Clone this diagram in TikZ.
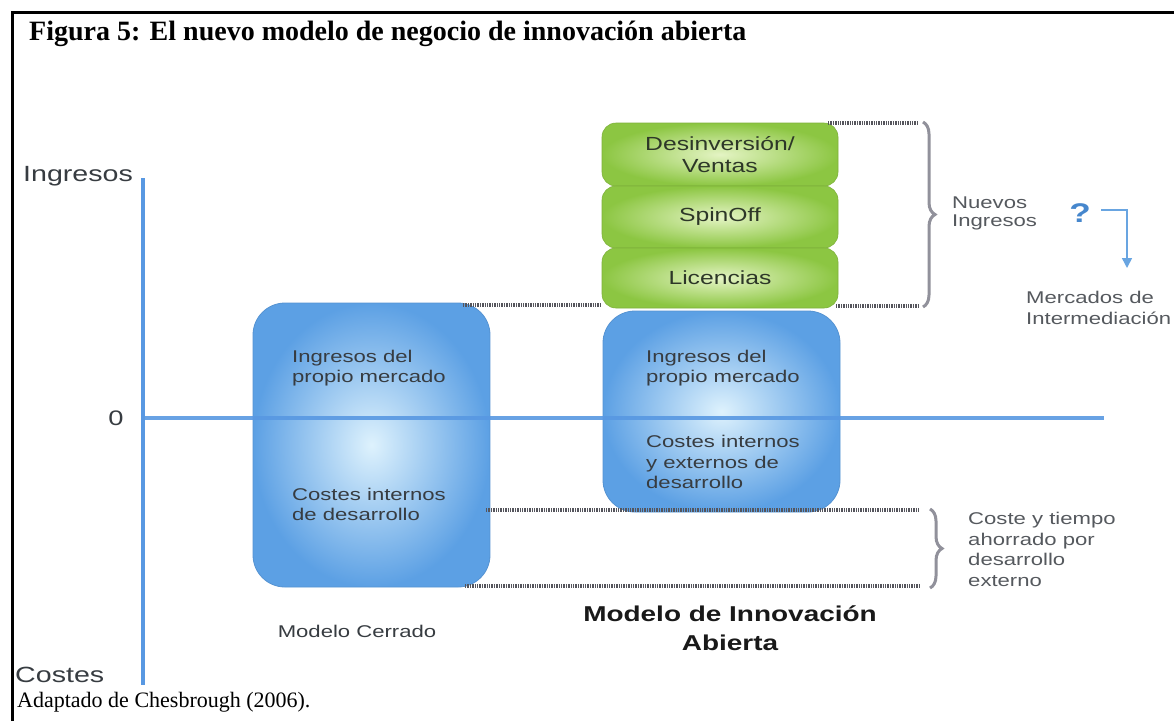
\documentclass[tikz,border=0pt]{standalone}
\usepackage{fontspec}
\setmainfont{Liberation Serif}
\newfontfamily\dsans[FakeStretch=1.3]{Liberation Sans}
\usetikzlibrary{decorations.pathreplacing,arrows.meta}
\definecolor{axisblue}{RGB}{88,152,226}
\definecolor{blueedge}{RGB}{92,160,228}
\definecolor{bluelight}{RGB}{222,242,253}
\definecolor{greenedge}{RGB}{140,198,66}
\definecolor{greenlight}{RGB}{228,244,196}
\definecolor{greentxt}{RGB}{45,55,40}
\definecolor{txtgray}{RGB}{55,60,65}
\definecolor{dotgray}{RGB}{85,85,92}
\definecolor{bracegray}{RGB}{145,145,155}
\definecolor{qblue}{RGB}{70,135,205}
\definecolor{arrblue}{RGB}{105,165,225}
\tikzset{
  lbl/.style={font=\dsans\fontsize{17}{20.5}\selectfont, text=txtgray, align=left, inner sep=0pt},
  axlbl/.style={font=\dsans\fontsize{22}{26}\selectfont, text=txtgray, inner sep=0pt},
  gbox/.style={rounded corners=14pt, inner color=greenlight, outer color=greenedge, draw=greenedge!90!black, line width=0.6pt,
    minimum width=236pt, font=\dsans\fontsize{19}{22}\selectfont, text=greentxt, align=center, inner sep=0pt},
  bbox/.style={rounded corners=32pt, inner color=bluelight, outer color=blueedge, draw=blueedge!92!black, line width=0.8pt,
    minimum width=237pt, inner sep=0pt},
  dots/.style={draw=dotgray, line width=3.5pt, dash pattern=on 1.4pt off 1pt},
  bracestyle/.style={draw=bracegray, line width=3pt, decorate, decoration={brace, amplitude=12pt}},
  axis/.style={draw=axisblue, line width=3.5pt},
}
\begin{document}
\begin{tikzpicture}[x=1pt,y=-1pt]
\useasboundingbox (0,0) rectangle (1174,721);
\clip (0,0) rectangle (1174,721);
\fill[white] (0,0) rectangle (1174,721);

% frame
\draw[line width=3.5pt] (12.5,721) -- (12.5,12.5) -- (1174,12.5);

% title and caption
\node[anchor=base west, inner sep=0, font=\bfseries\fontsize{28}{32}\selectfont] (title) at (29,40) {Figura 5: El nuevo modelo de negocio de innovación abierta};
\node[anchor=base west, inner sep=0, font=\fontsize{22}{26}\selectfont] (cap) at (17,707) {Adaptado de Chesbrough (2006).};

% boxes
\node[bbox, minimum height=284pt] (lb) at (371.5,445) {};
\node[bbox, minimum height=201pt] (rb) at (721.5,411.5) {};
\node[gbox, minimum height=63pt] (g1) at (720,154.5) {Desinversión/\\Ventas};
\node[gbox, minimum height=62pt] (g2) at (720,217) {SpinOff};
\node[gbox, minimum height=60pt] (g3) at (720,278) {Licencias};

% axes
\coordinate (vtop) at (143,178);
\coordinate (vbot) at (143,685);
\coordinate (hl) at (143,418);
\coordinate (hr) at (1104,418);
\draw[axis] (vtop) -- (vbot);
\draw[axis, draw opacity=0.9] (hl) -- (hr);

% axis labels
\node[axlbl, anchor=west] (ing) at (23,176) {Ingresos};
\node[axlbl, anchor=west] (cos) at (15,675) {Costes};
\node[axlbl, font=\dsans\fontsize{21}{24}\selectfont] (zero) at (116,418) {0};

% box texts
\node[lbl, anchor=west] (l1) at (292,368) {Ingresos del\\propio mercado};
\node[lbl, anchor=west] (l2) at (292,504.5) {Costes internos\\de desarrollo};
\node[lbl, anchor=west] (r1) at (646,368) {Ingresos del\\propio mercado};
\node[lbl, anchor=west] (r2) at (646,462) {Costes internos\\y externos de\\desarrollo};

% dotted guide lines
\coordinate (d1a) at (828,123);  \coordinate (d1b) at (918,123);
\coordinate (d2a) at (463,305);  \coordinate (d2b) at (602,305);
\coordinate (d3a) at (836,306);  \coordinate (d3b) at (918,306);
\coordinate (d4a) at (486,510);  \coordinate (d4b) at (920,510);
\coordinate (d5a) at (465,586);  \coordinate (d5b) at (920,586);
\draw[dots] (d1a) -- (d1b);
\draw[dots] (d2a) -- (d2b);
\draw[dots] (d3a) -- (d3b);
\draw[dots] (d4a) -- (d4b);
\draw[dots] (d5a) -- (d5b);

% braces
\coordinate (b1t) at (923,122); \coordinate (b1b) at (923,307);
\coordinate (b2t) at (930,509); \coordinate (b2b) at (930,588);
\draw[bracestyle] (b1t) -- (b1b);
\draw[bracestyle] (b2t) -- (b2b);

% right labels
\node[lbl, anchor=west, text=txtgray!85, font=\dsans\fontsize{17}{18}\selectfont] (nuevos) at (952,213) {Nuevos\\Ingresos};
\node[lbl, anchor=west, text=txtgray!85] (coste) at (968,549.5) {Coste y tiempo\\ahorrado por\\desarrollo\\externo};
\node[lbl, anchor=west, text=txtgray!85] (merc) at (1026,308) {Mercados de\\Intermediación};
\node[inner sep=0, font=\dsans\bfseries\fontsize{27}{30}\selectfont, text=qblue] (q) at (1080,213) {?};
\coordinate (qa) at (1101,210);
\coordinate (qe) at (1127,268);
\draw[arrblue, line width=1.6pt, -{Triangle[width=10pt,length=10pt]}] (qa) -| (qe);

% model labels
\node[lbl, anchor=center, font=\dsans\fontsize{17}{20}\selectfont] (mc) at (357,631) {Modelo Cerrado};
\node[inner sep=0, align=center, font=\dsans\bfseries\fontsize{21.5}{29}\selectfont, text=black!90] (mi) at (730,628) {Modelo de Innovación\\Abierta};
\end{tikzpicture}
\end{document}
